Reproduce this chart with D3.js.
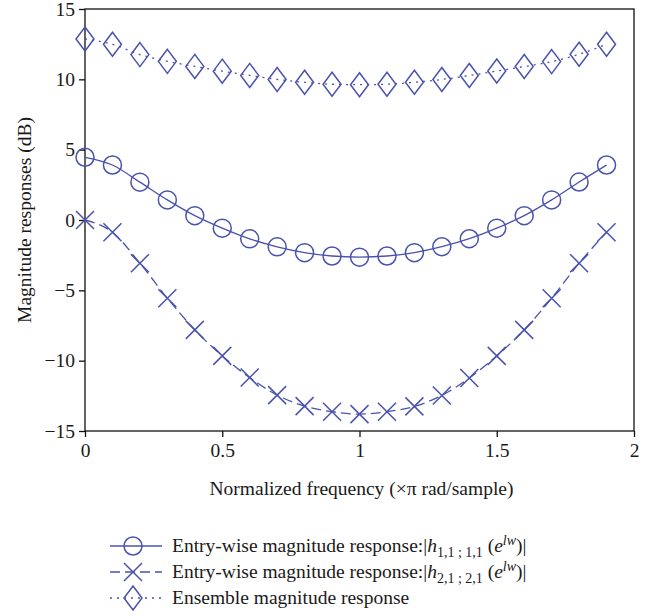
<!DOCTYPE html>
<html>
<head>
<meta charset="utf-8">
<script src="https://cdn.jsdelivr.net/npm/d3@7"></script>
<style>
    body { margin: 0; background: #fff; }
    svg { display: block; }
    text { font-family: "Liberation Serif", "DejaVu Serif", serif; fill: #1a1a1a; }
</style>
</head>
<body>
<svg id="chart"></svg>
<script>
"use strict";

const width = 662;
const height = 616;
const left = 85;
const right = 634;
const top_y = 9;
const bottom_y = 431;

const blue = "#4a52ad";
const font_size = 19.5;

// normalized frequency (x pi rad/sample), one marker every 0.1
const freq = [0, 0.1, 0.2, 0.3, 0.4, 0.5, 0.6, 0.7, 0.8, 0.9,
    1.0, 1.1, 1.2, 1.3, 1.4, 1.5, 1.6, 1.7, 1.8, 1.9];

// |h_{1,1;1,1}| in dB
const h11 = [4.46, 3.91, 2.69, 1.43, 0.31, -0.58, -1.34, -1.91, -2.32, -2.56,
    -2.64, -2.56, -2.32, -1.9, -1.33, -0.58, 0.31, 1.43, 2.7, 3.91];

// |h_{2,1;2,1}| in dB
const h21 = [0, -0.87, -3.07, -5.56, -7.81, -9.66, -11.2, -12.45, -13.23, -13.63,
    -13.8, -13.63, -13.25, -12.47, -11.23, -9.66, -7.81, -5.56, -3.07, -0.87];

// ensemble magnitude response in dB
const ensemble = [12.87, 12.49, 11.76, 11.28, 10.92, 10.58, 10.28, 9.99, 9.79, 9.65,
    9.62, 9.65, 9.79, 9.99, 10.27, 10.59, 10.91, 11.26, 11.78, 12.49];

const x_ticks = [0, 0.5, 1, 1.5, 2];
const y_ticks = [-15, -10, -5, 0, 5, 10, 15];

const svg = d3.select("#chart")
    .attr("width", width)
    .attr("height", height);

const x_scale = d3.scaleLinear()
    .domain([0, 2])
    .range([left, right]);

const y_scale = d3.scaleLinear()
    .domain([-15, 15])
    .range([bottom_y, top_y]);

// frame
svg.append("rect")
    .attr("x", left)
    .attr("y", top_y)
    .attr("width", right - left)
    .attr("height", bottom_y - top_y)
    .attr("fill", "none")
    .attr("stroke", "#111")
    .attr("stroke-width", 1.3);

// axes
const axis_x = svg.append("g")
    .attr("transform", `translate(0, ${bottom_y})`)
    .call(d3.axisBottom(x_scale)
        .tickValues(x_ticks)
        .tickSize(6)
        .tickPadding(6)
        .tickFormat(d3.format("")));

const axis_y = svg.append("g")
    .attr("transform", `translate(${left}, 0)`)
    .call(d3.axisLeft(y_scale)
        .tickValues(y_ticks)
        .tickSize(6)
        .tickPadding(4)
        .tickFormat(d => d < 0 ? "\u2212" + Math.abs(d) : d));

[axis_x, axis_y].forEach(a => {
    a.select(".domain").remove();
    a.selectAll("line").attr("stroke", "#111").attr("stroke-width", 1.3);
    a.selectAll("text")
        .attr("font-family", "Liberation Serif, serif")
        .attr("font-size", font_size)
        .attr("fill", "#1a1a1a");
});

// axis titles
svg.append("text")
    .attr("x", (left + right) / 2 + 2)
    .attr("y", 495)
    .attr("text-anchor", "middle")
    .attr("font-size", font_size)
    .text("Normalized frequency (\u00d7\u03c0 rad/sample)");

svg.append("text")
    .attr("transform", `translate(31, ${(top_y + bottom_y) / 2}) rotate(-90)`)
    .attr("text-anchor", "middle")
    .attr("font-size", font_size)
    .text("Magnitude responses (dB)");

// series
const series = [
    { name: "h11", values: h11, dash: null, marker: "circle" },
    { name: "h21", values: h21, dash: "10,5", marker: "cross" },
    { name: "ensemble", values: ensemble, dash: "2,5", marker: "diamond" }
];

const line = d3.line()
    .x(d => x_scale(d[0]))
    .y(d => y_scale(d[1]))
    .curve(d3.curveMonotoneX);

function drawMarker(g, type, cx, cy) {
    if (type === "circle") {
        g.append("circle")
            .attr("cx", cx).attr("cy", cy).attr("r", 9)
            .attr("fill", "none").attr("stroke", blue).attr("stroke-width", 1.5);
    } else if (type === "cross") {
        const s = 9;
        g.append("path")
            .attr("d", `M${cx - s},${cy - s}L${cx + s},${cy + s}M${cx - s},${cy + s}L${cx + s},${cy - s}`)
            .attr("fill", "none").attr("stroke", blue).attr("stroke-width", 1.5);
    } else {
        const w = 9, h = 12;
        g.append("path")
            .attr("d", `M${cx},${cy - h}L${cx + w},${cy}L${cx},${cy + h}L${cx - w},${cy}Z`)
            .attr("fill", "none").attr("stroke", blue).attr("stroke-width", 1.5);
    }
}

const plot = svg.append("g");

series.forEach(s => {
    const pts = freq.map((f, i) => [f, s.values[i]]);
    plot.append("path")
        .datum(pts)
        .attr("d", line)
        .attr("fill", "none")
        .attr("stroke", blue)
        .attr("stroke-width", 1.3)
        .attr("stroke-dasharray", s.dash);
    const mg = plot.append("g");
    pts.forEach(p => drawMarker(mg, s.marker, x_scale(p[0]), y_scale(p[1])));
});

// legend
const legend_rows = [546, 572, 598];
const legend = svg.append("g");

series.forEach((s, i) => {
    const y = legend_rows[i];
    legend.append("line")
        .attr("x1", 110).attr("x2", 162)
        .attr("y1", y).attr("y2", y)
        .attr("stroke", blue)
        .attr("stroke-width", 1.3)
        .attr("stroke-dasharray", s.dash);
    drawMarker(legend, s.marker, 133, y);
});

function entryLabel(y, sub) {
    const t = legend.append("text")
        .attr("x", 172)
        .attr("y", y + 6)
        .attr("font-size", font_size);
    t.append("tspan").text("Entry-wise magnitude response:|");
    t.append("tspan").attr("font-style", "italic").text("h");
    t.append("tspan").attr("font-size", 14).attr("dy", 5).text(sub);
    t.append("tspan").attr("dy", -5).text(" (");
    t.append("tspan").attr("font-style", "italic").text("e");
    t.append("tspan").attr("font-size", 14).attr("font-style", "italic").attr("dy", -7).text("lw");
    t.append("tspan").attr("dy", 7).text(")|");
}

entryLabel(legend_rows[0], "1,1 ; 1,1");
entryLabel(legend_rows[1], "2,1 ; 2,1");

legend.append("text")
    .attr("x", 172)
    .attr("y", legend_rows[2] + 6)
    .attr("font-size", font_size)
    .text("Ensemble magnitude response");
</script>
</body>
</html>
